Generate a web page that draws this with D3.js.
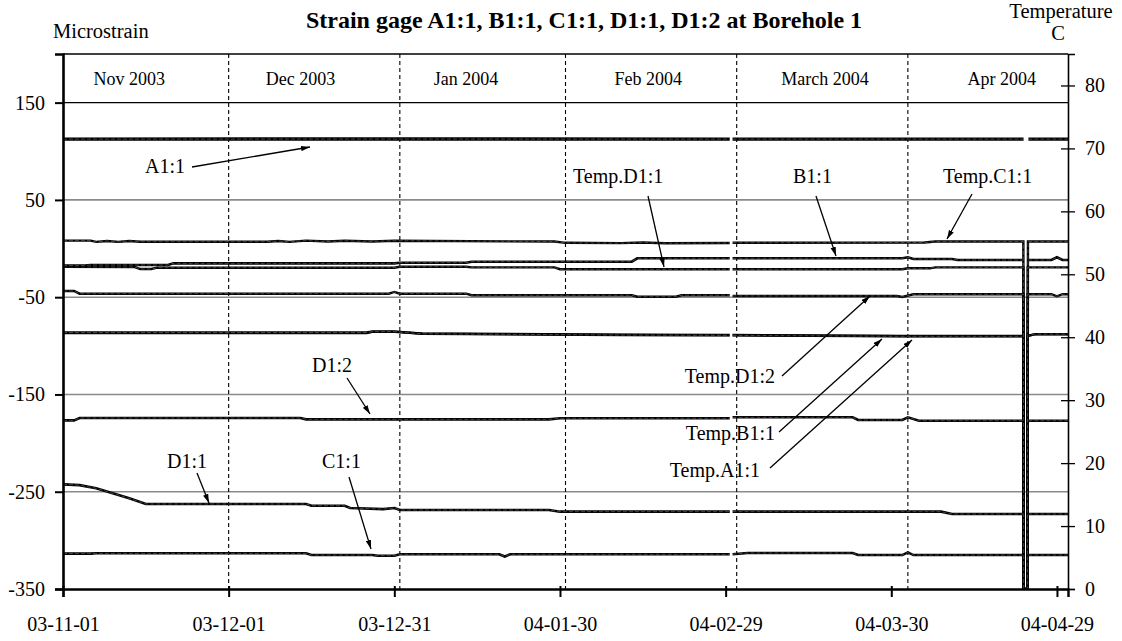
<!DOCTYPE html>
<html><head><meta charset="utf-8">
<script src="https://cdn.jsdelivr.net/npm/d3@7"></script>
<style>
html,body{margin:0;padding:0;background:#fff;}
svg text{font-family:"Liberation Serif","Times New Roman",serif;fill:#000;}
</style></head>
<body><svg id="chart" width="1122" height="641"></svg>
<script>
// ---------------- DATA ----------------
const chartTitle = "Strain gage A1:1, B1:1, C1:1, D1:1, D1:2 at Borehole 1";
const xDomain = ["2003-11-01", "2004-05-01"];
const xTickDates = ["2003-11-01","2003-12-01","2003-12-31","2004-01-30","2004-02-29","2004-03-30","2004-04-29"];
const leftTicks = [-350, -250, -150, -50, 50, 150];
const rightTicks = [0, 10, 20, 30, 40, 50, 60, 70, 80];
const monthBounds = ["2003-12-01", "2004-01-01", "2004-01-31", "2004-03-02", "2004-04-02"];
const monthNames = ["Nov 2003", "Dec 2003", "Jan 2004", "Feb 2004", "March 2004", "Apr 2004"];
const monthLabelDates = ["2003-11-13", "2003-12-14", "2004-01-13", "2004-02-15", "2004-03-18", "2004-04-19"];

// strain series (microstrain, left axis); null = missing reading
const strainA11 = [["2003-11-01",112.5],["2003-12-20",112.6],["2004-02-29T18:00",112.5],["2004-03-01",null],
  ["2004-03-01T06:00",112.5],["2004-04-22T23:00",112.5],["2004-04-23T06:00",null],["2004-04-23T20:00",112.5],["2004-05-01",112.5]];
const strainB11 = [["2003-11-01",-17.4],["2003-11-05",-17.4],["2003-11-06",-16.9],["2003-11-20",-16.9],["2003-11-21",-15.2],
  ["2003-12-31",-15.2],["2004-01-01",-14.6],["2004-01-13",-14.6],["2004-01-14",-13.5],["2004-02-12",-13.5],["2004-02-13",-10.0],
  ["2004-02-29T18:00",-10.0],["2004-03-01",null],["2004-03-01T06:00",-10.0],["2004-04-01",-10.0],["2004-04-02",-9.0],
  ["2004-04-03",-10.8],["2004-04-10",-10.8],["2004-04-11",-11.8],["2004-04-22T23:00",-11.8],["2004-04-23T06:00",null],
  ["2004-04-23T20:00",-11.8],["2004-04-28",-11.8],["2004-04-29",-9.0],["2004-04-30",-11.8],["2004-05-01",-11.8]];
const strainC11 = [["2003-11-01",-313.6],["2003-11-06",-313.6],["2003-11-07",-313.3],["2003-12-15",-313.3],["2003-12-16",-315.1],
  ["2003-12-27",-315.1],["2003-12-28",-315.8],["2003-12-31",-315.8],["2004-01-01",-314.3],["2004-01-19",-314.3],["2004-01-20",-316.6],
  ["2004-01-21",-314.3],["2004-02-29T18:00",-314.3],["2004-03-01",null],["2004-03-01T06:00",-314.3],["2004-03-04",-313.0],
  ["2004-03-23",-313.0],["2004-03-24",-315.1],["2004-04-01",-315.1],["2004-04-02",-312.4],["2004-04-03",-315.1],
  ["2004-04-22T23:00",-315.1],["2004-04-23T06:00",null],["2004-04-23T20:00",-315.1],["2004-05-01",-315.1]];
const strainD11 = [["2003-11-01",-242.4],["2003-11-04",-243.2],["2003-11-07",-246.5],["2003-11-10",-251.6],["2003-11-13",-256.8],
  ["2003-11-16",-262.6],["2003-12-15",-262.6],["2003-12-16",-264.4],["2003-12-22",-264.4],["2003-12-23",-266.7],["2003-12-29",-267.9],
  ["2003-12-31",-266.7],["2004-01-01",-268.8],["2004-01-28",-268.8],["2004-01-30",-270.5],["2004-02-29T18:00",-270.5],
  ["2004-03-01",null],["2004-03-01T06:00",-270.5],["2004-04-08",-270.5],["2004-04-10",-272.9],["2004-04-22T23:00",-272.9],
  ["2004-04-23T06:00",null],["2004-04-23T20:00",-272.9],["2004-05-01",-272.9]];
const strainD12 = [["2003-11-01",-176.6],["2003-11-03",-176.6],["2003-11-04",-174.2],["2003-12-14",-174.2],["2003-12-15",-175.6],
  ["2004-01-28",-175.6],["2004-01-30",-174.5],["2004-02-29T18:00",-174.5],["2004-03-01",null],["2004-03-01T06:00",-173.5],
  ["2004-03-23",-173.5],["2004-03-24",-176.3],["2004-04-01",-176.3],["2004-04-02",-173.5],["2004-04-04",-177.0],
  ["2004-04-22T23:00",-177.0],["2004-04-23T06:00",null],["2004-04-23T20:00",-177.0],["2004-05-01",-177.0]];

// temperature series (deg C, right axis); 0 = faulty reading
const tempA11 = [["2003-11-01",40.65],["2003-12-26",40.65],["2003-12-27",40.85],["2003-12-31",40.85],["2004-01-05",40.6],
  ["2004-02-10",40.4],["2004-02-29T18:00",40.35],["2004-03-01",null],["2004-03-01T06:00",40.35],["2004-04-01",40.2],
  ["2004-04-22T22:00",40.2],["2004-04-22T23:30",0],["2004-04-23T15:00",0],["2004-04-23T17:00",40.25],["2004-04-25",40.45],["2004-05-01",40.45]];
const tempB11 = [["2003-11-01",40.75],["2003-12-26",40.75],["2003-12-27",40.9],["2003-12-31",40.9],["2004-01-05",40.55],
  ["2004-02-10",40.35],["2004-02-29T18:00",40.3],["2004-03-01",null],["2004-03-01T06:00",40.3],["2004-04-01",40.15],
  ["2004-04-22T22:00",40.15],["2004-04-22T23:30",0],["2004-04-23T15:00",0],["2004-04-23T17:00",40.2],["2004-04-25",40.5],["2004-05-01",40.5]];
const tempC11 = [["2003-11-01",55.35],["2003-11-06",55.35],["2003-11-07",55.15],["2003-11-09",55.3],["2003-11-11",55.15],
  ["2003-11-13",55.3],["2003-11-15",55.18],["2003-12-08",55.18],["2003-12-10",55.3],["2003-12-12",55.15],["2003-12-15",55.35],
  ["2003-12-19",55.2],["2003-12-22",55.32],["2003-12-27",55.22],["2003-12-31",55.33],["2004-01-29",55.2],["2004-01-31",55.0],
  ["2004-02-10",54.95],["2004-02-14",55.05],["2004-02-18",54.93],["2004-02-29T18:00",54.98],["2004-03-01",null],
  ["2004-03-01T06:00",55.0],["2004-04-05",55.05],["2004-04-07",55.2],["2004-04-22T22:00",55.2],["2004-04-22T23:00",0],
  ["2004-04-23T16:00",0],["2004-04-23T18:00",55.2],["2004-05-01",55.2]];
const tempD11 = [["2003-11-01",51.2],["2003-11-14",51.15],["2003-11-15",50.84],["2003-11-17",50.84],["2003-11-18",51.05],
  ["2003-12-31",51.05],["2004-01-01",51.2],["2004-01-13",51.2],["2004-01-14",51.1],["2004-01-29",51.1],["2004-01-30",50.8],
  ["2004-02-29T18:00",50.8],["2004-03-01",null],["2004-03-01T06:00",50.8],["2004-04-01",50.8],["2004-04-02",50.95],
  ["2004-04-06",50.95],["2004-04-07",51.1],["2004-04-22T22:00",51.1],["2004-04-22T23:30",0],["2004-04-23T15:00",0],
  ["2004-04-23T17:00",51.1],["2004-05-01",51.1]];
const tempD12 = [["2003-11-01",47.35],["2003-11-03",47.35],["2003-11-04",46.92],["2003-12-30",46.92],["2003-12-31",47.2],
  ["2004-01-01",46.92],["2004-01-13",46.92],["2004-01-14",46.67],["2004-02-12",46.67],["2004-02-13",46.43],["2004-02-20",46.43],
  ["2004-02-21",46.67],["2004-02-29T18:00",46.67],["2004-03-01",null],["2004-03-01T06:00",46.56],["2004-03-31",46.56],
  ["2004-04-01",46.4],["2004-04-03",46.83],["2004-04-22T22:00",46.83],["2004-04-22T23:30",0],["2004-04-23T15:00",0],
  ["2004-04-23T17:00",46.83],["2004-04-28",46.83],["2004-04-29",46.5],["2004-04-30",46.83],["2004-05-01",46.83]];

const strainSeries = [strainA11, strainB11, strainC11, strainD11, strainD12];
const tempSeries = [tempA11, tempB11, tempC11, tempD11, tempD12];

// annotation labels (text) with layout kept separately below
const annotationTexts = ["A1:1","Temp.D1:1","B1:1","Temp.C1:1","D1:2","D1:1","C1:1","Temp.D1:2","Temp.B1:1","Temp.A1:1"];

// ---------------- LAYOUT ----------------
const L = 63, R = 1068, T = 54, B = 589;
const annLayout = [
  {tx:145, ty:173, anchor:"start", a:[192,167,310,147]},
  {tx:573, ty:183, anchor:"start", a:[648,196,664,267]},
  {tx:793, ty:183, anchor:"start", a:[816,196,836,256]},
  {tx:943, ty:183, anchor:"start", a:[972,194,947,239]},
  {tx:312, ty:372, anchor:"start", a:[347,378,370,414]},
  {tx:167, ty:468, anchor:"start", a:[197,473,209,503]},
  {tx:322, ty:468, anchor:"start", a:[349,477,371,549]},
  {tx:775, ty:383, anchor:"end", a:[782,376,870,296]},
  {tx:775, ty:440, anchor:"end", a:[779,432,882,339]},
  {tx:760, ty:477, anchor:"end", a:[770,468,912,340]}
];

const pd = s => new Date(s.length === 10 ? s + "T00:00:00Z" : s + ":00Z");
const svg = d3.select("#chart");

const x = d3.scaleUtc().domain(xDomain.map(pd)).range([L, R]);
const yL = d3.scaleLinear().domain([-350, 200]).range([B, T]);
const yR = d3.scaleLinear().domain([0, 85]).range([B, T]);

svg.append("defs").append("clipPath").attr("id","plot")
  .append("rect").attr("x",L).attr("y",T-1).attr("width",R-L).attr("height",B-T+2);
svg.select("defs").append("marker").attr("id","arr")
  .attr("viewBox","0 0 10 6").attr("refX",10).attr("refY",3)
  .attr("markerWidth",9).attr("markerHeight",6).attr("markerUnits","userSpaceOnUse")
  .attr("orient","auto")
  .append("path").attr("d","M0,0 L10,3 L0,6 Z").attr("fill","#000");

// gridlines
svg.append("g").selectAll("line").data(leftTicks.filter(v => v !== -350))
  .join("line")
  .attr("x1", L).attr("x2", R)
  .attr("y1", d => yL(d)).attr("y2", d => yL(d))
  .attr("stroke", d => d === 150 ? "#000" : "#8a8a8a")
  .attr("stroke-width", d => d === 150 ? 1.2 : 1.6);

// vertical dashed month separators
svg.append("g").selectAll("line").data(monthBounds)
  .join("line")
  .attr("x1", d => x(pd(d))).attr("x2", d => x(pd(d)))
  .attr("y1", T).attr("y2", B)
  .attr("stroke", "#000").attr("stroke-width", 1.1).attr("stroke-dasharray", "4,3");

// month labels
svg.append("g").selectAll("text").data(monthNames)
  .join("text")
  .attr("x", (d, i) => x(pd(monthLabelDates[i])))
  .attr("y", 85).attr("text-anchor", "middle").attr("font-size", 18)
  .text(d => d);

// series
const plot = svg.append("g").attr("clip-path", "url(#plot)");
const lineL = d3.line().defined(d => d[1] !== null).x(d => x(pd(d[0]))).y(d => yL(d[1]));
const lineR = d3.line().defined(d => d[1] !== null).x(d => x(pd(d[0]))).y(d => yR(d[1]));
function drawSeries(data, gen, w) {
  plot.append("path").datum(data).attr("d", gen)
    .attr("fill", "none").attr("stroke", "#000").attr("stroke-width", w)
    .attr("stroke-linejoin", "miter");
  plot.append("path").datum(data).attr("d", gen)
    .attr("fill", "none").attr("stroke", "#fff").attr("stroke-width", 0.6)
    .attr("stroke-opacity", 0.45).attr("stroke-dasharray", "4,2");
}
tempSeries.forEach(s => drawSeries(s, lineR, 2.4));
strainSeries.forEach((s, i) => drawSeries(s, lineL, i === 0 ? 3.4 : 2.6));

// frame (top)
svg.append("line").attr("x1",L).attr("x2",R).attr("y1",T).attr("y2",T).attr("stroke","#000").attr("stroke-width",1.5);

// axes
const fmtInt = d => String(d);
const axL = svg.append("g").attr("transform", `translate(${L},0)`)
  .call(d3.axisLeft(yL).tickValues(leftTicks).tickFormat(fmtInt).tickSize(8).tickPadding(10));
axL.select(".domain").attr("stroke-width", 2.6);
axL.selectAll(".tick line").attr("stroke-width", 2);
axL.selectAll("text").attr("font-size", 20).attr("font-family", '"Liberation Serif",serif');

const axR = svg.append("g").attr("transform", `translate(${R},0)`)
  .call(d3.axisRight(yR).tickValues(rightTicks).tickFormat(fmtInt).tickSize(7).tickPadding(10));
axR.select(".domain").attr("stroke-width", 1.6);
axR.selectAll(".tick line").attr("x1", -7).attr("stroke-width", 1.3);
axR.selectAll("text").attr("font-size", 20).attr("font-family", '"Liberation Serif",serif');

const axB = svg.append("g").attr("transform", `translate(0,${B})`)
  .call(d3.axisBottom(x).tickValues(xTickDates.map(pd)).tickFormat(d3.utcFormat("%y-%m-%d")).tickSize(8).tickPadding(20));
axB.select(".domain").attr("stroke-width", 2.4);
axB.selectAll(".tick line").attr("y1", -3).attr("stroke-width", 2);
axB.selectAll("text").attr("font-size", 20).attr("font-family", '"Liberation Serif",serif');

// titles
svg.append("text").attr("x", 584).attr("y", 28).attr("text-anchor", "middle")
  .attr("font-size", 24).attr("font-weight", "bold").text(chartTitle);
svg.append("text").attr("x", 53).attr("y", 38).attr("font-size", 20.5).text("Microstrain");
svg.append("text").attr("x", 1061).attr("y", 18).attr("text-anchor", "middle").attr("font-size", 20.5).text("Temperature");
svg.append("text").attr("x", 1058).attr("y", 40).attr("text-anchor", "middle").attr("font-size", 20.5).text("C");

// annotations
const ann = svg.append("g");
annotationTexts.forEach((t, i) => {
  const l = annLayout[i];
  ann.append("text").attr("x", l.tx).attr("y", l.ty).attr("text-anchor", l.anchor).attr("font-size", 20).text(t);
  ann.append("line").attr("x1", l.a[0]).attr("y1", l.a[1]).attr("x2", l.a[2]).attr("y2", l.a[3])
    .attr("stroke", "#000").attr("stroke-width", 1.3).attr("marker-end", "url(#arr)");
});
</script></body></html>
